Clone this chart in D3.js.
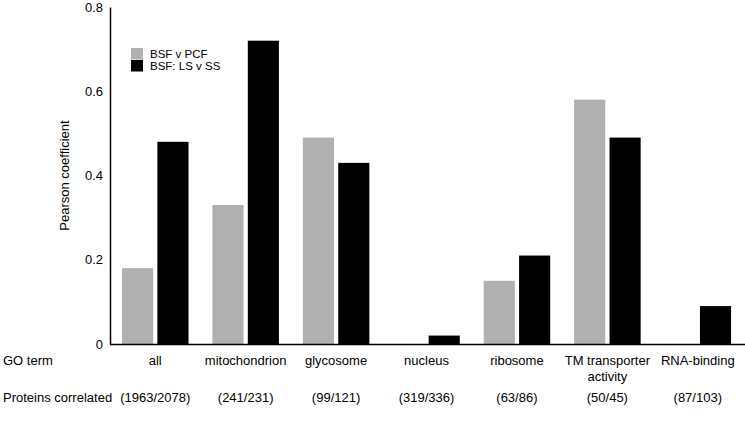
<!DOCTYPE html>
<html>
<head>
<meta charset="utf-8">
<script src="https://cdn.jsdelivr.net/npm/d3@7"></script>
<style>
  html, body { margin: 0; padding: 0; background: #fff; }
  svg { display: block; font-family: Arial, "Liberation Sans", sans-serif; }
</style>
</head>
<body>
<svg id="chart" width="745" height="437"></svg>
<script>
const categories = ["all", "mitochondrion", "glycosome", "nucleus", "ribosome", "TM transporter activity", "RNA-binding"];
const categoryLines = [["all"], ["mitochondrion"], ["glycosome"], ["nucleus"], ["ribosome"], ["TM transporter", "activity"], ["RNA-binding"]];
const proteinCounts = ["(1963/2078)", "(241/231)", "(99/121)", "(319/336)", "(63/86)", "(50/45)", "(87/103)"];
const seriesNames = ["BSF v PCF", "BSF: LS v SS"];
const bsfVsPcf = [0.18, 0.33, 0.49, null, 0.15, 0.58, null];
const lsVsSs = [0.48, 0.72, 0.43, 0.02, 0.21, 0.49, 0.09];
const yTicks = [0, 0.2, 0.4, 0.6, 0.8];
const seriesColors = ["#b0b0b0", "#000000"];

const svg = d3.select("#chart");
const mLeft = 110, mRight = 743, mTop = 7, mBottom = 344;

const x = d3.scaleBand().domain(categories).range([mLeft, mRight]).padding(0);
const inner = d3.scaleBand().domain([0, 1]).range([12, 78.5]).paddingInner(0.12).paddingOuter(0);
const y = d3.scaleLinear().domain([0, 0.8]).range([mBottom, mTop]);

// bars
const series = [bsfVsPcf, lsVsSs];
series.forEach((vals, si) => {
  svg.append("g").selectAll("rect")
    .data(categories.map((c, i) => ({c, v: vals[i]})).filter(d => d.v != null))
    .join("rect")
    .attr("x", d => x(d.c) + inner(si))
    .attr("width", inner.bandwidth())
    .attr("y", d => y(d.v))
    .attr("height", d => y(0) - y(d.v))
    .attr("fill", seriesColors[si]);
});

// y axis
const yAxis = d3.axisLeft(y).tickValues(yTicks).tickSize(0).tickPadding(7)
  .tickFormat(d => d === 0 ? "0" : d3.format(".1f")(d));
const ga = svg.append("g").attr("transform", `translate(${mLeft},0)`).call(yAxis);
ga.select(".domain").attr("stroke", "#000").attr("stroke-width", 1.5);
ga.selectAll("text").attr("font-size", 13).attr("font-family", "Arial, 'Liberation Sans', sans-serif").attr("fill", "#000");

// x axis line
svg.append("line").attr("x1", mLeft).attr("x2", mRight + 2).attr("y1", mBottom + 0.5).attr("y2", mBottom + 0.5)
  .attr("stroke", "#000").attr("stroke-width", 1.5);

// y label
svg.append("text")
  .attr("transform", `translate(69,${(mTop + mBottom) / 2}) rotate(-90)`)
  .attr("text-anchor", "middle").attr("font-size", 13).text("Pearson coefficient");

// category labels
const catG = svg.append("g");
categories.forEach((c, i) => {
  const t = catG.append("text").attr("x", x(c) + x.bandwidth() / 2).attr("y", 365)
    .attr("text-anchor", "middle").attr("font-size", 13);
  categoryLines[i].forEach((line, li) => {
    t.append("tspan").attr("x", x(c) + x.bandwidth() / 2).attr("dy", li === 0 ? 0 : 15.5).text(line);
  });
  catG.append("text").attr("x", x(c) + x.bandwidth() / 2).attr("y", 402)
    .attr("text-anchor", "middle").attr("font-size", 13).text(proteinCounts[i]);
});
svg.append("text").attr("x", 3).attr("y", 365).attr("font-size", 13).text("GO term");
svg.append("text").attr("x", 3).attr("y", 402).attr("font-size", 13).text("Proteins correlated");

// legend
const lg = svg.append("g").attr("transform", "translate(131,48)");
seriesNames.forEach((n, i) => {
  lg.append("rect").attr("x", 0).attr("y", i * 12).attr("width", 12).attr("height", 11.5).attr("fill", seriesColors[i]);
  lg.append("text").attr("x", 19).attr("y", i * 12 + 9.5).attr("font-size", 11.5).text(n);
});
</script>
</body>
</html>
